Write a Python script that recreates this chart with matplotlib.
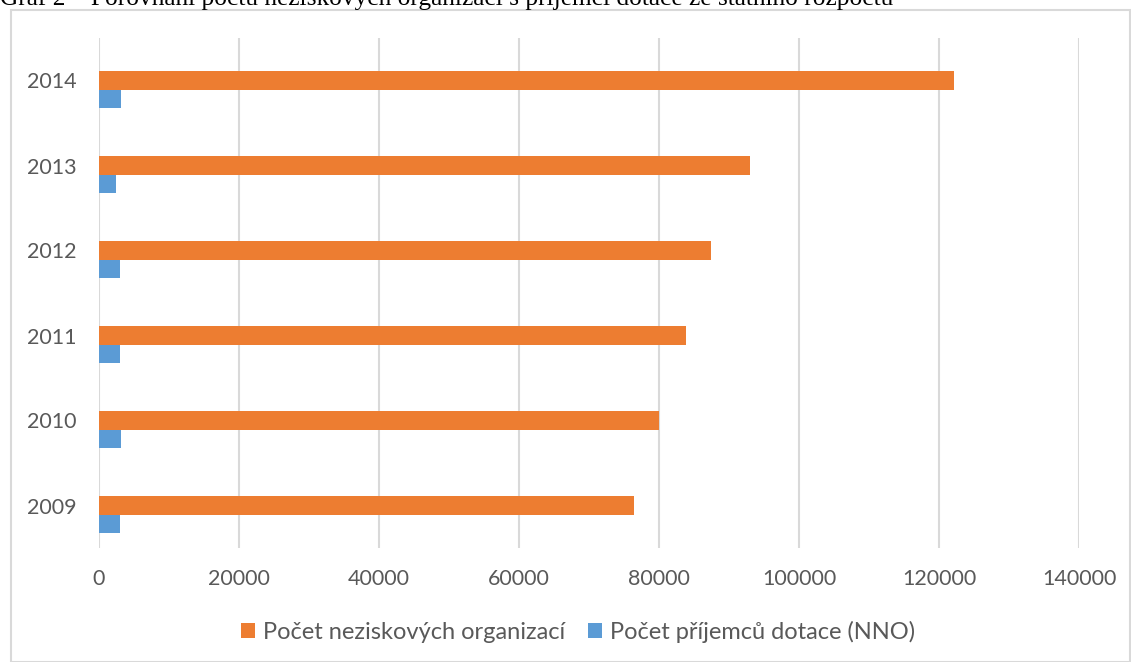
import numpy as np
import matplotlib.pyplot as plt
from matplotlib.patches import Rectangle

# data
years = ['2009', '2010', '2011', '2012', '2013', '2014']
nno_count = [76400, 80000, 83800, 87400, 93000, 122200]
recipients = [3000, 3200, 3000, 3050, 2400, 3100]

title = 'Graf 2 – Porovnání počtu neziskových organizací s příjemci dotace ze státního rozpočtu'
label_nno = 'Počet neziskových organizací'
label_rec = 'Počet příjemců dotace (NNO)'

ORANGE = '#ED7D31'
BLUE = '#5B9BD5'
GRID = '#D9D9D9'
TXT = '#595959'

W, H = 1131, 662
fig = plt.figure(figsize=(W / 100, H / 100), dpi=100)

# chart frame (Excel style border)
fig.patches.append(Rectangle((11 / W, 0), (W - 12) / W, (H - 10) / H,
                             transform=fig.transFigure, fill=False,
                             edgecolor=GRID, linewidth=1.5))

# caption above the chart, cut at the top edge like in the source
fig.text(0, (H - 5.5) / H, title, family='Liberation Serif', fontsize=18.3,
         va='baseline', ha='left', color='black')

ax = fig.add_axes([99 / W, (H - 548) / H, (1079 - 99) / W, (548 - 38) / H])

y = np.arange(len(years))
bh = 0.212
ax.barh(y, nno_count, height=bh, color=ORANGE, label=label_nno, zorder=3)
ax.barh(y - bh, recipients, height=bh, color=BLUE, label=label_rec, zorder=3)

ax.set_xlim(0, 140000)
ax.set_ylim(-0.5, len(years) - 0.5)
ax.set_xticks(np.arange(0, 140001, 20000))
ax.set_yticks(y)
ax.set_yticklabels(years)

ax.grid(axis='x', color=GRID, linewidth=1.5, zorder=0)
ax.set_axisbelow(True)
for s in ax.spines.values():
    s.set_visible(False)
ax.tick_params(axis='both', length=0, labelsize=15.5, labelcolor=TXT)
ax.tick_params(axis='x', pad=15)
ax.tick_params(axis='y', pad=16)
for t in ax.get_xticklabels() + ax.get_yticklabels():
    t.set_family('Lato')

leg = fig.legend(loc='center', bbox_to_anchor=(578 / W, (H - 632) / H), ncol=2,
                 frameon=False, prop={'family': 'Lato', 'size': 17},
                 handlelength=0.6, handleheight=0.6, handletextpad=0.3,
                 columnspacing=1.0)
for t in leg.get_texts():
    t.set_color(TXT)

fig.savefig('out.png', dpi=100)
